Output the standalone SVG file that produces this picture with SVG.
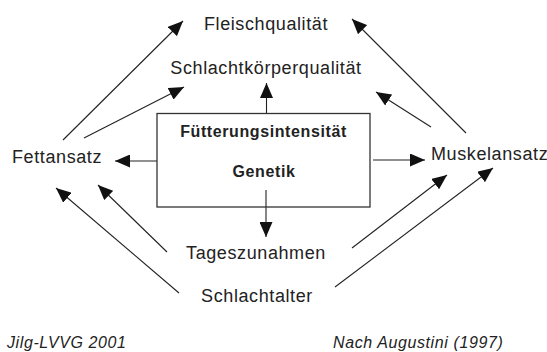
<svg xmlns="http://www.w3.org/2000/svg" width="547" height="352" viewBox="0 0 547 352">
<defs>
<marker id="ah" markerWidth="15" markerHeight="13" refX="15" refY="6.5" orient="auto" markerUnits="userSpaceOnUse">
<path d="M0,0 L15,6.5 L0,13 z" fill="#111"/>
</marker>
<style>
.t{font-family:"Liberation Sans",Arial,sans-serif;font-size:18px;fill:#222;letter-spacing:0.6px}
.b{font-family:"Liberation Sans",Arial,sans-serif;font-size:16px;font-weight:bold;fill:#222;letter-spacing:0.6px}
.f{font-family:"Liberation Sans",Arial,sans-serif;font-size:16px;font-style:italic;fill:#222;letter-spacing:0.6px}
.c line{stroke:#222;stroke-width:1.1;marker-end:url(#ah)}
</style>
</defs>
<rect width="547" height="352" fill="#fff"/>
<g id="connectors" class="c">
<line x1="63" y1="140" x2="183" y2="21"/>
<line x1="84" y1="138" x2="184" y2="87"/>
<line x1="266.5" y1="113" x2="266.5" y2="83"/>
<line x1="431" y1="127" x2="376" y2="92"/>
<line x1="466" y1="133" x2="352" y2="19"/>
<line x1="157" y1="161" x2="115" y2="161"/>
<line x1="373" y1="160" x2="425" y2="160"/>
<line x1="266" y1="190" x2="266" y2="237"/>
<line x1="167" y1="252" x2="98" y2="185"/>
<line x1="179" y1="293" x2="56" y2="188"/>
<line x1="352" y1="248" x2="447" y2="175"/>
<line x1="335" y1="287" x2="493" y2="168"/>
</g>
<g id="box">
<rect x="157" y="113.5" width="213" height="93.5" fill="none" stroke="#333" stroke-width="1.3"/>
<text class="b" x="263.5" y="137" text-anchor="middle">Fütterungsintensität</text>
<text class="b" x="264" y="177" text-anchor="middle">Genetik</text>
</g>
<g id="fleischqualitaet"><text class="t" x="266" y="29.5" text-anchor="middle">Fleischqualität</text></g>
<g id="schlachtkoerperqualitaet"><text class="t" x="266" y="74" text-anchor="middle">Schlachtkörperqualität</text></g>
<g id="fettansatz"><text class="t" x="12" y="163">Fettansatz</text></g>
<g id="muskelansatz"><text class="t" x="431" y="159.5">Muskelansatz</text></g>
<g id="tageszunahmen"><text class="t" x="256" y="258.5" text-anchor="middle">Tageszunahmen</text></g>
<g id="schlachtalter"><text class="t" x="257" y="302" text-anchor="middle">Schlachtalter</text></g>
<g id="footer">
<text class="f" x="7" y="348">Jilg-LVVG 2001</text>
<text class="f" x="333" y="348">Nach Augustini (1997)</text>
</g>
</svg>
